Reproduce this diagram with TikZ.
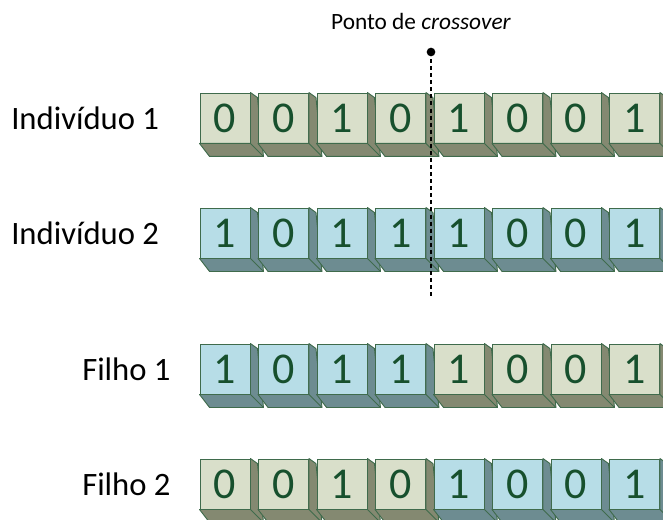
\documentclass[tikz,border=0pt]{standalone}
\usepackage{fontspec}
\setmainfont{Carlito}
\usetikzlibrary{calc,positioning}
\definecolor{GeneEdge}{HTML}{3F6B4C}
\definecolor{GeneDigit}{HTML}{17502D}
\definecolor{GeneGFront}{HTML}{D9DFCA}
\definecolor{GeneGSide}{HTML}{848971}
\definecolor{GeneBFront}{HTML}{B7DDE7}
\definecolor{GeneBSide}{HTML}{6D8C91}
\tikzset{
  gene/.style={draw=GeneEdge,line width=0.7pt,minimum width=37.5pt,minimum height=37.5pt,inner sep=0pt,text=GeneDigit,font=\fontsize{33}{33}\selectfont},
  geneside/.style={draw=GeneEdge,line width=0.7pt,line join=round},
  rowlabel/.style={anchor=west,inner sep=0pt,font=\fontsize{24.5}{26}\selectfont},
  caption/.style={inner sep=0pt,font=\fontsize{17.5}{19}\selectfont},
  cutdot/.style={circle,fill=black,minimum size=6.5pt,inner sep=0pt},
  cutline/.style={line width=2.2pt,dash pattern=on 3pt off 2.3pt}
}
% one gene: name, column, top edge (px), bit, colour (G or B)
\newcommand{\gene}[5]{%
  \node[gene,fill=Gene#5Front] (#1) at ({225+58.5*#2},{#3+25}) {#4};
  \draw[geneside,fill=Gene#5Side] (#1.north east) -- ++(7,5)
    -- ($(#1.south east)+(13,13)$) -- ($(#1.south west)+(10,13)$)
    -- (#1.south west) -- (#1.south east) -- cycle;
  \draw[geneside] (#1.south east) -- ++(13,13);
}

\begin{document}
\begin{tikzpicture}[x=0.75pt,y=-0.75pt]
  \useasboundingbox (0,0) rectangle (663,520);

  % parents
  \node[rowlabel] (ind1) at (11,118) {Indivíduo 1};
  \foreach \b/\c [count=\i from 0] in {0/G,0/G,1/G,0/G,1/G,0/G,0/G,1/G}
    {\gene{ind1-\i}{\i}{93}{\b}{\c}}
  \node[rowlabel] (ind2) at (11,233) {Indivíduo 2};
  \foreach \b/\c [count=\i from 0] in {1/B,0/B,1/B,1/B,1/B,0/B,0/B,1/B}
    {\gene{ind2-\i}{\i}{208}{\b}{\c}}

  % offspring
  \node[rowlabel] (son1) at (82,369) {Filho 1};
  \foreach \b/\c [count=\i from 0] in {1/B,0/B,1/B,1/B,1/G,0/G,0/G,1/G}
    {\gene{son1-\i}{\i}{344}{\b}{\c}}
  \node[rowlabel] (son2) at (82,484) {Filho 2};
  \foreach \b/\c [count=\i from 0] in {0/G,0/G,1/G,0/G,1/B,0/B,0/B,1/B}
    {\gene{son2-\i}{\i}{459}{\b}{\c}}

  % crossover point
  \node[caption] (title) at (421,21) {Ponto de \textit{crossover}};
  \node[cutdot] (cut) at (431,52) {};
  \coordinate (cutend) at (431,296);
  \draw[cutline] (cut.center) -- (cutend);
\end{tikzpicture}
\end{document}
